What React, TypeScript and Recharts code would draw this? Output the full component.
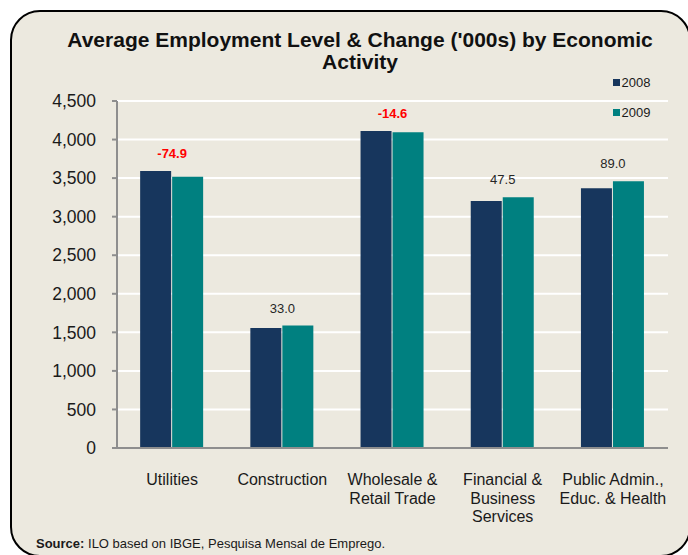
import React from "react";
import { BarChart, Bar, XAxis, YAxis, CartesianGrid, LabelList } from "recharts";

const categories = [
  "Utilities",
  "Construction",
  "Wholesale &\nRetail Trade",
  "Financial &\nBusiness\nServices",
  "Public Admin.,\nEduc. & Health",
];
const values2008 = [3592, 1555, 4110, 3204, 3370];
const values2009 = [3517, 1588, 4095, 3252, 3459];
const changes = [-74.9, 33.0, -14.6, 47.5, 89.0];
const seriesNames = ["2008", "2009"];
const yTicks = [0, 500, 1000, 1500, 2000, 2500, 3000, 3500, 4000, 4500];
const titleLines = ["Average Employment Level & Change ('000s) by Economic", "Activity"];
const sourceLabel = "Source:";
const sourceText = " ILO based on IBGE, Pesquisa Mensal de Emprego.";

const data = categories.map((c, i) => ({
  category: c,
  y2008: values2008[i],
  y2009: values2009[i],
}));

const FONT = "'Liberation Sans', Arial, sans-serif";
const NAVY = "#17365D";
const TEAL = "#008080";
const BG = "#ECE9DF";
const AXIS = "#8E8E8E";

const CategoryTick = (props: any) => {
  const { x, y, payload } = props;
  const lines = String(payload.value).split("\n");
  return (
    <text x={x} y={y} textAnchor="middle" fontSize={16} fill="#1a1a1a" fontFamily={FONT}>
      {lines.map((l, i) => (
        <tspan key={i} x={x} dy={i === 0 ? 37 : 18.5}>
          {l}
        </tspan>
      ))}
    </text>
  );
};

const ChangeLabel = (props: any) => {
  const { x, y, height, index } = props;
  const v9 = values2009[index];
  const v8 = values2008[index];
  const perUnit = height / v9;
  const top = y + height - Math.max(v8, v9) * perUnit;
  const change = changes[index];
  const neg = change < 0;
  return (
    <text
      x={x}
      y={top - 13}
      textAnchor="middle"
      fontSize={13}
      fontWeight={neg ? "bold" : "normal"}
      fill={neg ? "#FF0000" : "#262626"}
      fontFamily={FONT}
    >
      {change.toFixed(1)}
    </text>
  );
};

export default function App() {
  return (
    <div
      style={{
        position: "fixed",
        left: 0,
        top: 0,
        width: 688,
        height: 555,
        overflow: "hidden",
        background: "#FFFFFF",
      }}
    >
      <div
        style={{
          position: "absolute",
          left: 10,
          top: 10,
          width: 681,
          height: 547,
          boxSizing: "border-box",
          border: "2.5px solid #000",
          borderRadius: 30,
          background: BG,
        }}
      />
      <div style={{ position: "absolute", left: 8, top: 8 }}>
        <BarChart
          width={680}
          height={547}
          data={data}
          margin={{ top: 93, right: 20, bottom: 27, left: 0 }}
          barCategoryGap="21%"
          barGap={1}
        >
          <CartesianGrid horizontal vertical={false} stroke="#FFFFFF" strokeWidth={2} />
          <XAxis
            dataKey="category"
            interval={0}
            tickLine={false}
            tickSize={0}
            tickMargin={0}
            height={80}
            axisLine={{ stroke: AXIS, strokeWidth: 2 }}
            tick={<CategoryTick />}
          />
          <YAxis
            width={109}
            domain={[0, 4500]}
            ticks={yTicks}
            interval={0}
            tickSize={5}
            tickMargin={16}
            axisLine={{ stroke: AXIS, strokeWidth: 2 }}
            tickLine={{ stroke: AXIS, strokeWidth: 2 }}
            tick={{ fontSize: 17.5, fill: "#1a1a1a", fontFamily: FONT }}
            tickFormatter={(v: number) => v.toLocaleString("en-US")}
          />
          <Bar dataKey="y2008" name={seriesNames[0]} fill={NAVY} isAnimationActive={false} />
          <Bar dataKey="y2009" name={seriesNames[1]} fill={TEAL} isAnimationActive={false}>
            <LabelList dataKey="y2009" content={<ChangeLabel />} />
          </Bar>
        </BarChart>
      </div>
      <svg
        width={688}
        height={555}
        style={{ position: "absolute", left: 0, top: 0, pointerEvents: "none" }}
      >
        <text x={360} y={47} textAnchor="middle" fontSize={21} fontWeight="bold" fill="#111" fontFamily={FONT}>
          {titleLines[0]}
        </text>
        <text x={360} y={69} textAnchor="middle" fontSize={21} fontWeight="bold" fill="#111" fontFamily={FONT}>
          {titleLines[1]}
        </text>
        <rect x={613} y={79} width={7} height={7} fill={NAVY} />
        <text x={621.5} y={87} fontSize={13} fill="#1a1a1a" fontFamily={FONT}>
          {seriesNames[0]}
        </text>
        <rect x={613} y={109} width={7} height={7} fill={TEAL} />
        <text x={621.5} y={117} fontSize={13} fill="#1a1a1a" fontFamily={FONT}>
          {seriesNames[1]}
        </text>
        <text x={36} y={548} fontSize={13} fill="#1a1a1a" fontFamily={FONT}>
          <tspan fontWeight="bold">{sourceLabel}</tspan>
          <tspan>{sourceText}</tspan>
        </text>
      </svg>
    </div>
  );
}
